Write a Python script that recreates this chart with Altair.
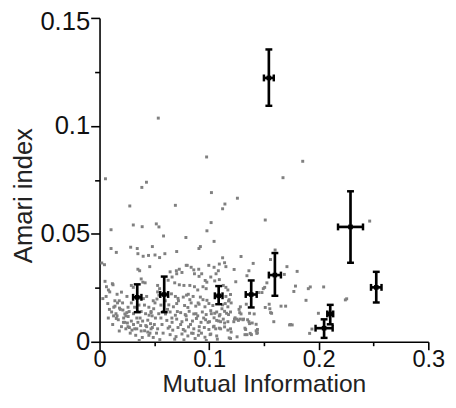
import altair as alt
import pandas as pd

x_title = "Mutual Information"
y_title = "Amari index"
x_ticks = [0, 0.05, 0.1, 0.15, 0.2, 0.25, 0.3]
y_ticks = [0, 0.025, 0.05, 0.075, 0.1, 0.125, 0.15]

# grey scatter (mutual information, Amari index)
scatter_points = [
    # sparse upper part
    (0.0536, 0.1036), (0.0977, 0.0856), (0.1854, 0.0836), (0.1674, 0.0760), (0.0054, 0.0755),
    (0.0428, 0.0739), (0.0386, 0.0715), (0.1021, 0.0691), (0.1258, 0.0665), (0.0276, 0.0629),
    (0.0692, 0.0632), (0.1144, 0.0638), (0.1123, 0.0616), (0.0308, 0.0541), (0.0389, 0.0533),
    (0.0518, 0.0546), (0.1018, 0.0552), (0.1512, 0.0564), (0.2465, 0.0559), (0.0980, 0.0514),
    (0.1045, 0.0465), (0.1291, 0.0395), (0.1123, 0.0389), (0.1602, 0.0425), (0.1560, 0.0381),
    (0.0997, 0.0354), (0.1710, 0.0348), (0.1803, 0.0326), (0.1228, 0.0335), (0.1402, 0.0363),
    (0.1363, 0.0329), (0.1345, 0.0306), (0.1243, 0.0278), (0.0105, 0.0519), (0.0542, 0.0532),
    (0.0105, 0.0432), (0.0153, 0.0414), (0.0284, 0.0438), (0.0344, 0.0432), (0.0350, 0.0408),
    (0.0398, 0.0396), (0.0447, 0.0400), (0.0482, 0.0441), (0.0506, 0.0402), (0.0548, 0.0390),
    (0.0045, 0.0357), (0.0458, 0.0348), (0.0788, 0.0483), (0.0920, 0.0441), (0.0907, 0.0432),
    (0.0584, 0.0490), (0.0704, 0.0418), (0.0596, 0.0408), (0.0020, 0.0365), (0.0366, 0.0329),
    (0.0350, 0.0336), (0.0380, 0.0291), (0.0395, 0.0276), (0.0117, 0.0269),
    # left part of the cloud
    (0.0063, 0.0255), (0.0081, 0.0240), (0.0093, 0.0231), (0.0123, 0.0264), (0.0290, 0.0261),
    (0.0308, 0.0252), (0.0416, 0.0273), (0.0075, 0.0177), (0.0110, 0.0138), (0.0141, 0.0165),
    (0.0164, 0.0180), (0.0182, 0.0156), (0.0213, 0.0147), (0.0231, 0.0129), (0.0128, 0.0120),
    (0.0153, 0.0108), (0.0171, 0.0102), (0.0249, 0.0135), (0.0261, 0.0117), (0.0218, 0.0090),
    (0.0254, 0.0087), (0.0290, 0.0096), (0.0272, 0.0066), (0.0296, 0.0054), (0.0321, 0.0060),
    (0.0350, 0.0090), (0.0375, 0.0075), (0.0393, 0.0096), (0.0422, 0.0075), (0.0411, 0.0051),
    (0.0440, 0.0045), (0.0465, 0.0084), (0.0482, 0.0066), (0.0452, 0.0123), (0.0470, 0.0135),
    (0.0494, 0.0153), (0.0506, 0.0180), (0.0524, 0.0198), (0.0542, 0.0216), (0.0530, 0.0231),
    (0.0548, 0.0246), (0.0530, 0.0261), (0.0362, 0.0006), (0.0130, 0.0160), (0.0180, 0.0190),
    (0.0220, 0.0110), (0.0260, 0.0160), (0.0310, 0.0130), (0.0340, 0.0110), (0.0380, 0.0140),
    (0.0410, 0.0170), (0.0440, 0.0100), (0.0470, 0.0060), (0.0510, 0.0110), (0.0540, 0.0130),
    (0.0570, 0.0080), (0.0330, 0.0030), (0.0390, 0.0020), (0.0450, 0.0030), (0.0520, 0.0040),
    (0.0280, 0.0040), (0.0200, 0.0070), (0.0240, 0.0060), (0.0360, 0.0170), (0.0490, 0.0190),
    (0.0430, 0.0210), (0.0560, 0.0170), (0.0580, 0.0040), (0.0550, 0.0010), (0.0470, 0.0140),
    (0.0400, 0.0200), (0.0160, 0.0220), (0.0060, 0.0210), (0.0050, 0.0280), (0.0030, 0.0200),
    (0.0120, 0.0080), (0.0180, 0.0050),
    (0.0150, 0.0130), (0.0190, 0.0150), (0.0210, 0.0180), (0.0240, 0.0120), (0.0270, 0.0140),
    (0.0290, 0.0180), (0.0320, 0.0160), (0.0350, 0.0140), (0.0370, 0.0110), (0.0420, 0.0130),
    (0.0450, 0.0160), (0.0480, 0.0120), (0.0500, 0.0080), (0.0530, 0.0060), (0.0560, 0.0110),
    (0.0580, 0.0140), (0.0230, 0.0090), (0.0260, 0.0070), (0.0310, 0.0080), (0.0340, 0.0060),
    (0.0380, 0.0050), (0.0430, 0.0070), (0.0460, 0.0040), (0.0490, 0.0020), (0.0160, 0.0120),
    (0.0090, 0.0150), (0.0080, 0.0110), (0.0140, 0.0190), (0.0200, 0.0230), (0.0250, 0.0210),
    # middle part of the cloud
    (0.1093, 0.0360), (0.1141, 0.0366), (0.1153, 0.0348), (0.1045, 0.0345), (0.0800, 0.0354),
    (0.0836, 0.0345), (0.0860, 0.0333), (0.0728, 0.0336), (0.0704, 0.0315), (0.0752, 0.0321),
    (0.0644, 0.0324), (0.0662, 0.0300), (0.0626, 0.0285), (0.0866, 0.0315), (0.0908, 0.0303),
    (0.0932, 0.0315), (0.1015, 0.0300), (0.1063, 0.0315), (0.1051, 0.0282), (0.1093, 0.0288),
    (0.0686, 0.0273), (0.0728, 0.0264), (0.0770, 0.0261), (0.0824, 0.0261), (0.0866, 0.0255),
    (0.0896, 0.0240), (0.0944, 0.0255), (0.0973, 0.0246), (0.0656, 0.0222), (0.0692, 0.0210),
    (0.0716, 0.0201), (0.0764, 0.0207), (0.0794, 0.0216), (0.0824, 0.0195), (0.0854, 0.0210),
    (0.0920, 0.0207), (0.0944, 0.0195), (0.0980, 0.0192), (0.1153, 0.0210), (0.1183, 0.0195),
    (0.1195, 0.0219), (0.0701, 0.0329), (0.0791, 0.0354), (0.0905, 0.0336), (0.0964, 0.0284),
    (0.1084, 0.0329),
    (0.0632, 0.0171), (0.0674, 0.0162), (0.0704, 0.0177), (0.0776, 0.0168), (0.0806, 0.0159),
    (0.0836, 0.0180), (0.0878, 0.0165), (0.0908, 0.0174), (0.0962, 0.0162), (0.0998, 0.0177),
    (0.1034, 0.0168), (0.1123, 0.0171), (0.1171, 0.0162), (0.1201, 0.0180),
    (0.0602, 0.0129), (0.0644, 0.0138), (0.0692, 0.0123), (0.0740, 0.0135), (0.0782, 0.0126),
    (0.0818, 0.0141), (0.0860, 0.0129), (0.0896, 0.0120), (0.0938, 0.0138), (0.0973, 0.0126),
    (0.1015, 0.0144), (0.1051, 0.0132), (0.1093, 0.0120), (0.1141, 0.0141), (0.1177, 0.0126),
    (0.0614, 0.0099), (0.0662, 0.0090), (0.0704, 0.0105), (0.0752, 0.0093), (0.0794, 0.0102),
    (0.0848, 0.0096), (0.0884, 0.0108), (0.0926, 0.0090), (0.0968, 0.0102), (0.1003, 0.0093),
    (0.1045, 0.0111), (0.1087, 0.0096), (0.1129, 0.0105), (0.1171, 0.0093),
    (0.0626, 0.0063), (0.0668, 0.0054), (0.0716, 0.0066), (0.0764, 0.0057), (0.0812, 0.0069),
    (0.0860, 0.0060), (0.0908, 0.0051), (0.0956, 0.0066), (0.0998, 0.0057), (0.1045, 0.0072),
    (0.1093, 0.0063), (0.1141, 0.0069), (0.1195, 0.0060),
    (0.0644, 0.0033), (0.0698, 0.0024), (0.0752, 0.0036), (0.0806, 0.0027), (0.0854, 0.0039),
    (0.0902, 0.0030), (0.0962, 0.0021), (0.1015, 0.0036), (0.1069, 0.0027),
    (0.0686, 0.0012), (0.0770, 0.0009), (0.0872, 0.0015), (0.0974, 0.0006),
    (0.0620, 0.0150), (0.0660, 0.0110), (0.0710, 0.0140), (0.0740, 0.0080), (0.0790, 0.0120),
    (0.0830, 0.0080), (0.0880, 0.0130), (0.0910, 0.0070), (0.0950, 0.0110), (0.0990, 0.0090),
    (0.1020, 0.0130), (0.1060, 0.0060), (0.0720, 0.0190), (0.0810, 0.0220), (0.0900, 0.0180),
    (0.0600, 0.0190), (0.0640, 0.0070), (0.0840, 0.0040), (0.0930, 0.0040), (0.0780, 0.0050),
    # right part of the cloud
    (0.1494, 0.0246), (0.1482, 0.0228), (0.1453, 0.0228), (0.1339, 0.0174), (0.1285, 0.0162),
    (0.1195, 0.0138), (0.1279, 0.0135), (0.1369, 0.0132), (0.1411, 0.0129), (0.1548, 0.0174),
    (0.1554, 0.0153), (0.1561, 0.0135), (0.1512, 0.0159), (0.1656, 0.0165), (0.1698, 0.0165),
    (0.1231, 0.0105), (0.1255, 0.0105), (0.1285, 0.0105), (0.1314, 0.0105), (0.1225, 0.0093),
    (0.1363, 0.0093), (0.1393, 0.0087), (0.1429, 0.0081), (0.1590, 0.0093), (0.1734, 0.0078),
    (0.1758, 0.0078), (0.1327, 0.0063), (0.1429, 0.0051), (0.1440, 0.0042), (0.1327, 0.0033),
    (0.1345, 0.0033), (0.1386, 0.0033), (0.1255, 0.0023), (0.1195, 0.0015),
    (0.2243, 0.0194), (0.2255, 0.0199), (0.1997, 0.0132), (0.1938, 0.0059), (0.1917, 0.0039),
    (0.1884, 0.0192), (0.1905, 0.0246), (0.1923, 0.0254), (0.2045, 0.0254), (0.1773, 0.0233),
    (0.1788, 0.0258), (0.1686, 0.0312), (0.1507, 0.0252), (0.1527, 0.0273),
    (0.0979, 0.0276), (0.1129, 0.0261), (0.1153, 0.0252), (0.1171, 0.0240), (0.1177, 0.0189),
    (0.1147, 0.0177), (0.1117, 0.0153), (0.1069, 0.0138), (0.1099, 0.0126), (0.1159, 0.0132),
    (0.1069, 0.0099), (0.1105, 0.0093), (0.1141, 0.0087), (0.1039, 0.0069), (0.1105, 0.0060),
    (0.1171, 0.0054), (0.1201, 0.0045), (0.1009, 0.0033), (0.1075, 0.0012), (0.1183, 0.0018),
    (0.1273, 0.0150), (0.1291, 0.0129), (0.1237, 0.0111), (0.1267, 0.0099), (0.1309, 0.0102),
    (0.1351, 0.0102), (0.1369, 0.0084), (0.1441, 0.0057), (0.1435, 0.0039), (0.1333, 0.0057),
    (0.1375, 0.0039), (0.1570, 0.0132), (0.1743, 0.0080),
]

# black summary points with error bars
eb_x = [0.0344, 0.0590, 0.1087, 0.1384, 0.1600, 0.1545, 0.2049, 0.2105, 0.2290, 0.2525]
eb_y = [0.0206, 0.0219, 0.0213, 0.0219, 0.0309, 0.1222, 0.0063, 0.0129, 0.0532, 0.0252]
eb_y_lo = [0.0137, 0.0137, 0.0174, 0.0159, 0.0213, 0.1093, 0.0018, 0.0081, 0.0366, 0.0182]
eb_y_hi = [0.0266, 0.0302, 0.0258, 0.0284, 0.0411, 0.1354, 0.0104, 0.0171, 0.0697, 0.0324]
eb_x_err = [0.0038, 0.0036, 0.0035, 0.0050, 0.0055, 0.0045, 0.0078, 0.0027, 0.0114, 0.0048]

font = "Liberation Sans"

scatter_df = pd.DataFrame(scatter_points, columns=["x", "y"])
eb_df = pd.DataFrame({
    "x": eb_x, "y": eb_y, "y_lo": eb_y_lo, "y_hi": eb_y_hi,
    "x_lo": [a - e for a, e in zip(eb_x, eb_x_err)],
    "x_hi": [a + e for a, e in zip(eb_x, eb_x_err)],
})
ycaps_df = pd.DataFrame({"x": eb_x + eb_x, "y": eb_y_lo + eb_y_hi})
xcaps_df = pd.DataFrame({"x": list(eb_df["x_lo"]) + list(eb_df["x_hi"]), "y": eb_y + eb_y})

x_major = "abs(datum.value*10-round(datum.value*10))<0.001"
y_major = "abs(datum.value*20-round(datum.value*20))<0.001"

x_axis = alt.Axis(
    values=x_ticks, grid=False,
    labelExpr=f"{x_major} ? format(datum.value, '~g') : ''",
    tickSize={"condition": {"test": x_major, "value": 8}, "value": 4},
    labelFont=font, labelFontSize=24, labelPadding=-2, labelColor="#111",
    labelFlush=False, labelOverlap=False,
    titleFont=font, titleFontSize=25, titleFontWeight="normal", titleColor="#222",
    titleY=51, titleBaseline="alphabetic",
    domainColor="black", domainWidth=1.6, tickColor="black", tickWidth=1.6,
)
y_axis = alt.Axis(
    values=y_ticks, grid=False,
    labelExpr=f"{y_major} ? format(datum.value, '~g') : ''",
    tickSize={"condition": {"test": y_major, "value": 9}, "value": 5},
    labelOffset={"condition": {"test": "datum.value > 0.14", "value": 4}, "value": 0},
    labelFont=font, labelFontSize=26, labelPadding=1, labelColor="#111",
    labelFlush=False, labelOverlap=False,
    titleFont=font, titleFontSize=26, titleFontWeight="normal", titleColor="#222",
    titleAngle=270, titleX=-69, titleY=180, titleAlign="center", titleBaseline="alphabetic",
    domainColor="black", domainWidth=1.6, tickColor="black", tickWidth=1.6,
)
x_scale = alt.Scale(domain=[0, 0.3], nice=False, zero=False)
y_scale = alt.Scale(domain=[0, 0.15], nice=False, zero=False)


def X(f):
    return alt.X(f"{f}:Q", title=x_title, scale=x_scale, axis=x_axis)


def Y(f):
    return alt.Y(f"{f}:Q", title=y_title, scale=y_scale, axis=y_axis)


points = alt.Chart(scatter_df).mark_square(size=9, color="#808080", opacity=1).encode(x=X("x"), y=Y("y"))
yerr = alt.Chart(eb_df).mark_rule(color="black", strokeWidth=2.7).encode(x=X("x"), y=Y("y_lo"), y2="y_hi")
xerr = alt.Chart(eb_df).mark_rule(color="black", strokeWidth=2.7).encode(x=X("x_lo"), x2="x_hi", y=Y("y"))
ycaps = alt.Chart(ycaps_df).mark_tick(color="black", orient="horizontal", size=7, thickness=2.5, opacity=1).encode(x=X("x"), y=Y("y"))
xcaps = alt.Chart(xcaps_df).mark_tick(color="black", orient="vertical", size=7, thickness=2.5, opacity=1).encode(x=X("x"), y=Y("y"))
centers = alt.Chart(eb_df).mark_square(size=22, color="black", opacity=1).encode(x=X("x"), y=Y("y"))

chart = alt.layer(points, yerr, xerr, ycaps, xcaps, centers).properties(
    width=334, height=329,
    autosize=alt.AutoSizeParams(type="none"),
    padding={"left": 93, "top": 7, "right": 20, "bottom": 52},
    background="white",
).configure_view(stroke=None)

chart.save("out.html", embed_options={"renderer": "svg", "actions": False})
